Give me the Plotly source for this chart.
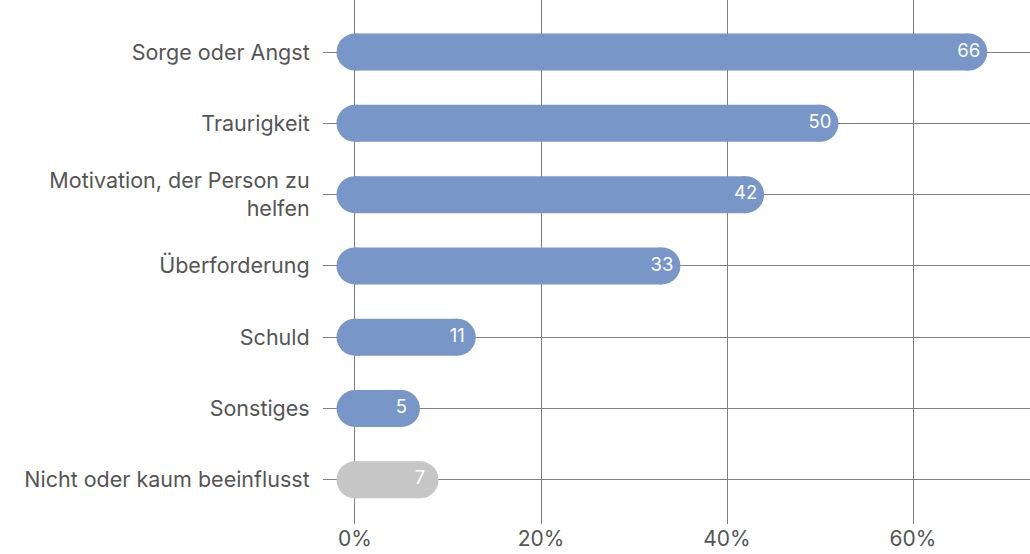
import plotly.graph_objects as go

categories = ["Sorge oder Angst", "Traurigkeit", "Motivation, der Person zu<br>helfen",
              "Überforderung", "Schuld", "Sonstiges", "Nicht oder kaum beeinflusst"]
values = [66, 50, 42, 33, 11, 5, 7]
colors = ["#7996c9"] * 6 + ["#c6c6c6"]
x_tickvals = [0, 20, 40, 60]
x_ticktext = ["0%", "20%", "40%", "60%"]

FONT = "Inter, Roboto, Arial, sans-serif"
fig = go.Figure()
for i, (cat, v, c) in enumerate(zip(categories, values, colors)):
    fig.add_trace(go.Scatter(
        x=[0, v], y=[i, i], mode="lines+markers",
        line=dict(color=c, width=37),
        marker=dict(color=c, size=37, line=dict(width=0)),
        hoverinfo="skip", showlegend=False, cliponaxis=False))
    fig.add_trace(go.Scatter(
        x=[v], y=[i], mode="text", text=[str(v)], textposition="middle center",
        textfont=dict(color="white", size=18.5, family=FONT),
        hoverinfo="skip", showlegend=False, cliponaxis=False))

fig.update_layout(
    width=1030, height=554,
    margin=dict(l=323, r=0, t=0, b=30),
    paper_bgcolor="white", plot_bgcolor="white",
    font=dict(family=FONT, color="#555555", size=21),
    xaxis=dict(range=[-3.44, 72.58], tickvals=x_tickvals, ticktext=x_ticktext,
               showgrid=True, gridcolor="#808080", gridwidth=1.2, zeroline=False,
               showline=False, ticks="", tickfont=dict(size=21), fixedrange=True),
    yaxis=dict(range=[6.62, -0.73], tickvals=list(range(len(categories))), ticktext=categories,
               showgrid=True, gridcolor="#808080", gridwidth=1.2, zeroline=False,
               showline=False, ticks="outside", ticklen=8, tickcolor="rgba(0,0,0,0)",
               tickfont=dict(size=21.5), fixedrange=True),
)
fig.write_html("out.html", config={"displayModeBar": False},
               post_script="document.body.style.margin='0';document.body.style.overflow='hidden';")
